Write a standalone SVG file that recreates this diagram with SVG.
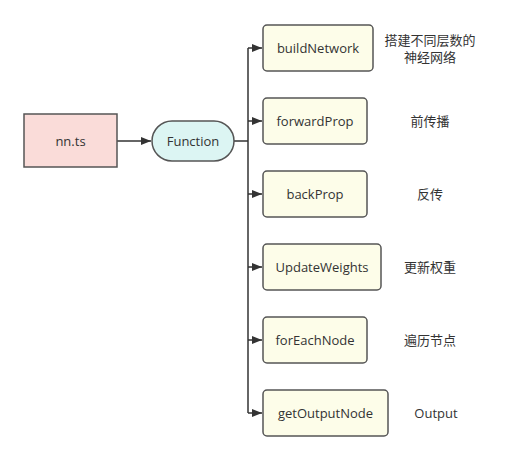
<svg xmlns="http://www.w3.org/2000/svg" width="511" height="460" viewBox="0 0 511 460">
<style>
.n{stroke:#555;stroke-width:1.5}
.f{fill:#fdfde9}
.t{font-family:"Open Sans","Noto Sans CJK SC",sans-serif;font-size:13px;fill:#333;text-anchor:middle;dominant-baseline:central}
.c{fill:none;stroke:#333;stroke-width:1.5}
</style>
<defs>
<marker id="a" markerWidth="10" markerHeight="8" refX="10" refY="4" orient="auto" markerUnits="userSpaceOnUse">
<path d="M0,0 L10,4 L0,8 Z" fill="#333"/>
</marker>
</defs>
<rect width="511" height="460" fill="#fff"/>
<g id="connectors">
<path class="c" d="M117,141 H151" marker-end="url(#a)"/>
<path class="c" d="M234,141 H248"/>
<path class="c" d="M248,48 V413"/>
<path class="c" d="M248,48 H262" marker-end="url(#a)"/>
<path class="c" d="M248,121 H262" marker-end="url(#a)"/>
<path class="c" d="M248,194 H262" marker-end="url(#a)"/>
<path class="c" d="M248,267 H262" marker-end="url(#a)"/>
<path class="c" d="M248,340 H262" marker-end="url(#a)"/>
<path class="c" d="M248,413 H262" marker-end="url(#a)"/>
</g>
<g id="nnts"><rect class="n" x="24" y="114" width="93" height="53" fill="#fadcd9"/><text class="t" x="70.5" y="141">nn.ts</text></g>
<g id="function"><rect class="n" x="152" y="121" width="82" height="40" rx="20" fill="#dcf5f3"/><text class="t" x="193" y="141">Function</text></g>
<g id="buildNetwork"><rect class="n f" x="263" y="25" width="110" height="46" rx="4"/><text class="t" x="318" y="48">buildNetwork</text></g>
<g id="forwardProp"><rect class="n f" x="263" y="98" width="104" height="46" rx="4"/><text class="t" x="315" y="121">forwardProp</text></g>
<g id="backProp"><rect class="n f" x="263" y="171" width="104" height="46" rx="4"/><text class="t" x="315" y="194">backProp</text></g>
<g id="updateWeights"><rect class="n f" x="263" y="244" width="118" height="46" rx="4"/><text class="t" x="322" y="267">UpdateWeights</text></g>
<g id="forEachNode"><rect class="n f" x="263" y="317" width="104" height="46" rx="4"/><text class="t" x="315" y="340">forEachNode</text></g>
<g id="getOutputNode"><rect class="n f" x="263" y="390" width="125" height="46" rx="4"/><text class="t" x="325.5" y="413">getOutputNode</text></g>
<g id="labels">
<text class="t" x="430" y="40">搭建不同层数的</text>
<text class="t" x="430" y="57">神经网络</text>
<text class="t" x="430" y="121">前传播</text>
<text class="t" x="430" y="194">反传</text>
<text class="t" x="430" y="267">更新权重</text>
<text class="t" x="430" y="340">遍历节点</text>
<text class="t" x="436" y="413">Output</text>
</g>
</svg>
